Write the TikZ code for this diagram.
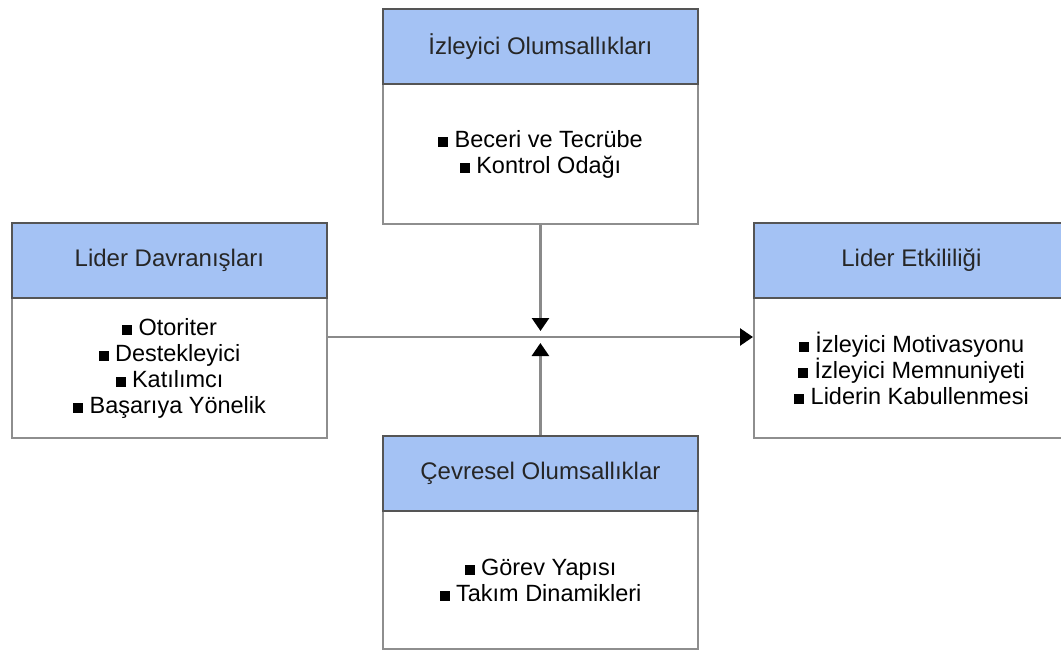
\documentclass[tikz,border=0pt]{standalone}
\usepackage{fontspec}
\setmainfont{Liberation Sans}
\usetikzlibrary{arrows.meta}
\definecolor{hdrblue}{HTML}{A4C2F4}
\definecolor{bodyborder}{HTML}{8E8E8E}
\definecolor{hdrborder}{HTML}{555555}
\definecolor{conngray}{HTML}{8A8A8A}
\newcommand{\sqb}{\rule{10pt}{10pt}\ }
\begin{document}
\begin{tikzpicture}[x=1pt,y=-1pt,
  hdr/.style={draw=hdrborder, line width=1.8pt, fill=hdrblue, anchor=north west,
    minimum width=315pt, minimum height=75pt, inner sep=0pt,
    font=\fontsize{24}{26}\selectfont, text=black!85},
  bdy/.style={draw=bodyborder, line width=2pt, fill=white, anchor=north west,
    minimum width=315pt, minimum height=140pt, inner sep=0pt, align=center,
    font=\fontsize{23.5}{26}\selectfont},
  conn/.style={draw=conngray, line width=2.6pt,
    -{Triangle[length=13pt,width=17pt,color=black]}}]
\useasboundingbox (0,0) rectangle (1061,650);
\fill[white] (0,0) rectangle (1061,650);
% top box
\node[bdy] (izb) at (382,83) {\sqb Beceri ve Tecrübe\\ \sqb Kontrol Odağı};
\node[hdr] (izh) at (382,8) {İzleyici Olumsallıkları};
% left box
\node[bdy] (ldb) at (11,297) {\sqb Otoriter\\ \sqb Destekleyici\\ \sqb Katılımcı\\ \sqb Başarıya Yönelik};
\node[hdr] (ldh) at (11,222) {Lider Davranışları};
% right box
\node[bdy] (reb) at (753,297) {\sqb İzleyici Motivasyonu\\ \sqb İzleyici Memnuniyeti\\ \sqb Liderin Kabullenmesi};
\node[hdr] (reh) at (753,222) {Lider Etkililiği};
% bottom box
\node[bdy, minimum height=138pt] (cob) at (382,510) {\sqb Görev Yapısı\\ \sqb Takım Dinamikleri};
\node[hdr] (coh) at (382,435) {Çevresel Olumsallıklar};
% connectors
\coordinate (mid) at (540,337);
\coordinate (tA) at (540,331);
\coordinate (tB) at (540,343);
\draw[conn] (ldb.east |- mid) -- (reb.west |- mid);
\draw[conn] (izb.south) -- (izb.south |- tA);
\draw[conn] (coh.north) -- (coh.north |- tB);
\end{tikzpicture}
\end{document}
